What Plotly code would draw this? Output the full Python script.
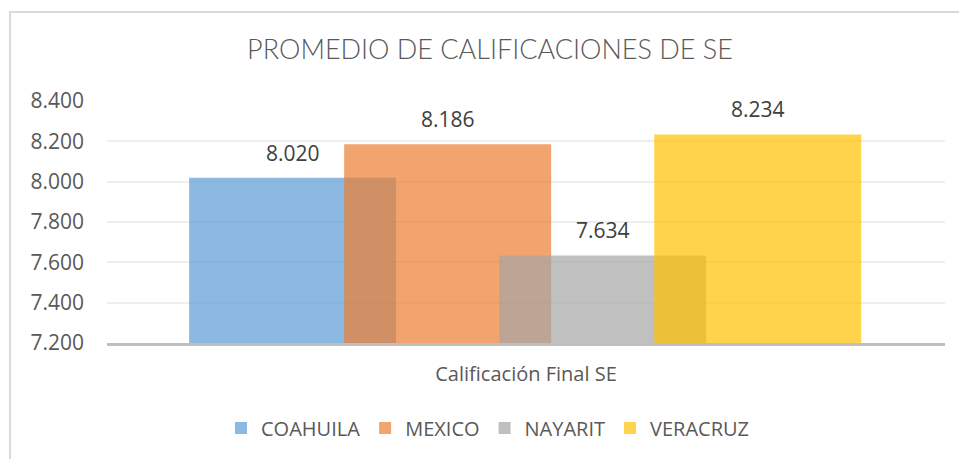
import plotly.graph_objects as go

# ---- data ----
CATEGORY = ["Calificación Final SE"]
STATES = ["COAHUILA", "MEXICO", "NAYARIT", "VERACRUZ"]
VALUES = [8.020, 8.186, 7.634, 8.234]
COLORS = ["rgba(91,155,213,0.7)", "rgba(237,125,49,0.7)",
          "rgba(165,165,165,0.7)", "rgba(255,192,0,0.7)"]
Y_TICKS = [7.2, 7.4, 7.6, 7.8, 8.0, 8.2, 8.4]

# ---- layout geometry ----
W, H = 959, 459
L, R, T, B = 107, 14, 101, 116
PW, PH = W - L - R, H - T - B

BAR_W = 0.247      # fraction of category band
STEP = 0.185       # offset between overlapping bars
FIRST = -0.402

TXT = "#595959"
FONT = "Open Sans"

fig = go.Figure()
annotations = []
for i, (name, v, c) in enumerate(zip(STATES, VALUES, COLORS)):
    off = FIRST + i * STEP
    fig.add_trace(go.Bar(
        x=CATEGORY, y=[v], name=name, marker=dict(color=c, line=dict(width=0)),
        width=BAR_W, offset=off, hoverinfo="name+y",
    ))
    annotations.append(dict(
        x=off + BAR_W / 2, y=v, xref="x", yref="y", text=f"{v:.3f}",
        showarrow=False, yanchor="middle", yshift=25,
        font=dict(family=FONT, size=21, color="#404040"),
    ))

fig.update_layout(
    width=W, height=H,
    margin=dict(l=L, r=R, t=T, b=B, pad=0),
    paper_bgcolor="white", plot_bgcolor="white",
    barmode="overlay",
    title=dict(text="PROMEDIO DE CALIFICACIONES DE SE", xref="container", yref="container",
               x=490 / W, y=1 - 50 / H, xanchor="center", yanchor="middle",
               font=dict(family="Lato", size=27, color=TXT, weight=300)),
    xaxis=dict(type="category", showgrid=False, showline=True, linecolor="#bfbfbf",
               linewidth=3, ticks="", ticklabelstandoff=11,
               tickfont=dict(family=FONT, size=20, color=TXT)),
    yaxis=dict(range=[Y_TICKS[0], Y_TICKS[-1]], tickvals=Y_TICKS, tickformat=".3f",
               showgrid=True, gridcolor="#eeeeee", gridwidth=2, zeroline=False,
               showline=False, ticks="", ticklabelstandoff=22,
               tickfont=dict(family=FONT, size=21, color=TXT)),
    legend=dict(orientation="h", x=(488 - L) / PW, xanchor="center",
                y=-(428 - (H - B)) / PH, yanchor="middle",
                font=dict(family=FONT, size=20, color=TXT), traceorder="normal",
                bgcolor="rgba(0,0,0,0)"),
    annotations=annotations,
    showlegend=True,
)

fig.add_shape(type="rect", xref="paper", yref="paper",
              x0=(10 - L) / PW, x1=1.2, y0=-1.0, y1=(H - B - 12) / PH,
              line=dict(color="#d9d9d9", width=2), fillcolor="rgba(0,0,0,0)", layer="below")

fig.write_html("out.html", config={"displayModeBar": False},
               post_script="document.body.style.margin='0';document.body.style.padding='0';")
